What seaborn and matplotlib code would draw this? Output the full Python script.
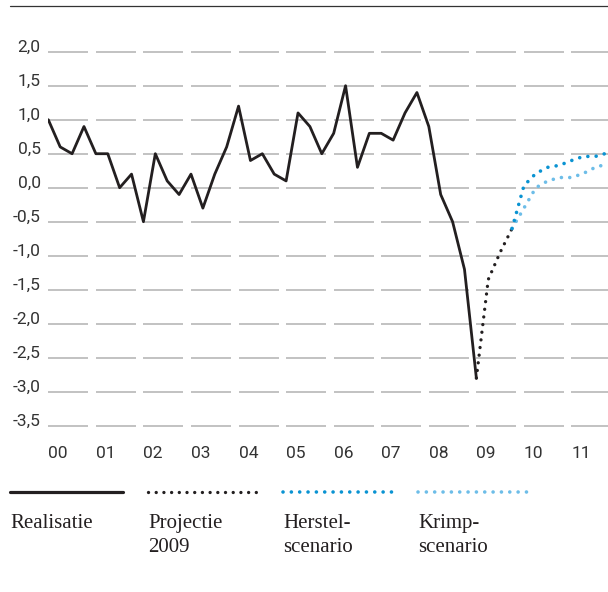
import numpy as np
import matplotlib
matplotlib.use("Agg")
import matplotlib.pyplot as plt
import seaborn as sns
from matplotlib.lines import Line2D

# Kwartaalcijfers (volume-mutatie t.o.v. vorig kwartaal, %)
realisatie = [1.0, 0.6, 0.5, 0.9, 0.5, 0.5, 0.0, 0.2, -0.5, 0.5, 0.1, -0.1,
              0.2, -0.3, 0.2, 0.6, 1.2, 0.4, 0.5, 0.2, 0.1, 1.1, 0.9, 0.5,
              0.8, 1.5, 0.3, 0.8, 0.8, 0.7, 1.1, 1.4, 0.9, -0.1, -0.5, -1.2,
              -2.8]
projectie = [-2.8, -1.35, -0.95, -0.6]
herstel = [-0.6, 0.03, 0.21, 0.30, 0.33, 0.40, 0.46, 0.46, 0.51]
krimp = [-0.6, -0.3, 0.0, 0.10, 0.15, 0.15, 0.21, 0.30, 0.35]

jaren = list(range(2000, 2012))
jaar_labels = ["00", "01", "02", "03", "04", "05", "06", "07", "08", "09", "10", "11"]
y_ticks = [2.0, 1.5, 1.0, 0.5, 0.0, -0.5, -1.0, -1.5, -2.0, -2.5, -3.0, -3.5]
y_labels = ["2,0", "1,5", "1,0", "0,5", "0,0", "-0,5", "-1,0", "-1,5",
            "-2,0", "-2,5", "-3,0", "-3,5"]

kleur_zwart = "#231f20"
kleur_herstel = "#0a93d2"
kleur_krimp = "#6dbde8"
kleur_grid = "#bdbdbd"

sns.set_theme(style="white")
plt.rcParams["font.family"] = ["Roboto", "DejaVu Sans"]

fig = plt.figure(figsize=(6.08, 5.92), dpi=100)
ax = fig.add_axes([48.3 / 608, 0.2694, 1 - 48.3 / 608, 0.6662])

# gestreepte rasterlijnen: per jaar een los stukje
for j in jaren:
    ax.hlines(y_ticks, j, j + 0.84, color=kleur_grid, lw=1.3, zorder=1)


def kwartalen(start, n):
    return 2000 + (start + np.arange(n)) / 4


dots = (0, (0.01, 2.3))

sns.lineplot(x=kwartalen(0, len(realisatie)), y=realisatie, ax=ax,
             color=kleur_zwart, lw=2.0, zorder=3)
sns.lineplot(x=kwartalen(36, len(projectie)), y=projectie, ax=ax,
             color=kleur_zwart, lw=2.4, linestyle=dots,
             dash_capstyle="round", zorder=3)
sns.lineplot(x=kwartalen(39, len(krimp)), y=krimp, ax=ax,
             color=kleur_krimp, lw=2.6, linestyle=dots,
             dash_capstyle="round", zorder=3)
sns.lineplot(x=kwartalen(39, len(herstel)), y=herstel, ax=ax,
             color=kleur_herstel, lw=2.6, linestyle=dots,
             dash_capstyle="round", zorder=4)

ax.set_xlim(2000, 2000 + 47.07 / 4)
ax.set_ylim(-3.6, 2.2)
ax.set_yticks(y_ticks)
ax.set_yticklabels(y_labels)
ax.set_xticks(jaren)
ax.set_xticklabels(jaar_labels)
ax.tick_params(axis="both", length=0, labelsize=12.5, labelcolor="#333333")
ax.tick_params(axis="y", pad=5.5)
ax.tick_params(axis="x", pad=10)
for lab in ax.get_yticklabels():
    lab.set_va("baseline")
for lab in ax.get_xticklabels():
    lab.set_ha("left")
for s in ax.spines.values():
    s.set_visible(False)
ax.set_facecolor("none")
ax.grid(False)

# bovenlijn
fig.add_artist(Line2D([10 / 608, 1.0], [1 - 5.7 / 592] * 2, color="#333333",
                      lw=0.9, transform=fig.transFigure))

# legenda onderaan
leg_y = 1 - 492.3 / 592
items = [
    (10, 123, kleur_zwart, "-", 2.3, ["Realisatie"]),
    (148, 262, kleur_zwart, dots, 2.4, ["Projectie", "2009"]),
    (283, 397, kleur_herstel, dots, 2.6, ["Herstel-", "scenario"]),
    (418, 532, kleur_krimp, dots, 2.6, ["Krimp-", "scenario"]),
]
for x0, x1, kleur, stijl, breedte, regels in items:
    fig.add_artist(Line2D([x0 / 608, x1 / 608], [leg_y, leg_y], color=kleur,
                          lw=breedte, linestyle=stijl, dash_capstyle="round",
                          transform=fig.transFigure))
    for i, regel in enumerate(regels):
        fig.text(x0 / 608, 1 - (528.3 + 23.4 * i) / 592, regel,
                 family=["Liberation Serif", "DejaVu Serif"], fontsize=15,
                 color=kleur_zwart, ha="left", va="baseline")

fig.savefig("out.png", dpi=100, facecolor="white")
